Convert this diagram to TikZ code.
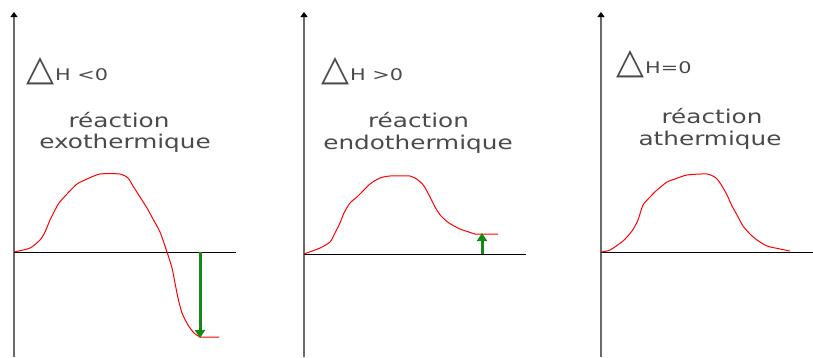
\documentclass[tikz,border=0pt]{standalone}
\usepackage{fontspec}
\setmainfont{DejaVu Sans}
\newfontfamily\lblfont[FakeStretch=1.3]{DejaVu Sans}
\usetikzlibrary{arrows.meta}
\definecolor{axgray}{HTML}{6A6A6A}
\definecolor{txtgray}{HTML}{4A4A4A}
\definecolor{dgreen}{HTML}{138A13}
\newcommand{\tri}{\hspace{-2pt}\resizebox{28pt}{23pt}{△}\hspace{1pt}}
\tikzset{
  yaxis/.style={draw=axgray,line width=1.8,-{Triangle[length=5,width=7,color=black]}},
  xaxis/.style={draw=black,line width=1},
  curve/.style={draw=red,line width=1,line join=round},
  deltaarrow/.style={draw=dgreen,line width=3,-{Triangle[length=8,width=10]}},
  lbl/.style={text=txtgray,font=\lblfont\fontsize{19}{21}\selectfont,inner sep=0,anchor=base},
  dh/.style={lbl,font=\lblfont\fontsize{16}{18}\selectfont,anchor=base west}
}
\begin{document}
\begin{tikzpicture}[x=1pt,y=-1pt]
\useasboundingbox (0,0) rectangle (813,357);
% ---------- panel 1
\coordinate (y1b) at (14,357); \coordinate (y1t) at (14,12);
\coordinate (x1a) at (14,252); \coordinate (x1b) at (236,252);
\draw[yaxis] (y1b) -- (y1t);
\draw[xaxis] (x1a) -- (x1b);
\draw[curve] plot[smooth,tension=0.4] coordinates {(14,252) (30,248) (40,240) (45,232) (50,220) (54,212) (59,203) (67,194) (77,184) (87,179) (100,174) (120,174) (128,178) (133,186) (140,197) (147,208) (153,219) (160,232) (167,252) (172,268) (175,283) (178,298) (182,313) (188,325) (194,333) (200,337)} -- (219,337);
\coordinate (g1a) at (200,252); \coordinate (g1b) at (200,338);
\draw[deltaarrow] (g1a) -- (g1b);
\node[dh] (dh1) at (28,80) {\tri H <0};
\node[lbl] (r1) at (119,127) {réaction};
\node[lbl] (e1) at (125,148) {exothermique};
% ---------- panel 2
\coordinate (y2b) at (304,357); \coordinate (y2t) at (304,12);
\coordinate (x2a) at (304,254); \coordinate (x2b) at (526,254);
\draw[yaxis] (y2b) -- (y2t);
\draw[xaxis] (x2a) -- (x2b);
\draw[curve] plot[smooth,tension=0.4] coordinates {(304,254) (320,248) (330,242) (335,233) (340,223) (344,213) (350,203) (358,196) (370,184) (380,178) (390,176) (410,176) (418,180) (424,186) (430,197) (435,207) (441,216) (449,223) (460,229) (475,234)} -- (498,234);
\coordinate (g2a) at (482,254); \coordinate (g2b) at (482,233);
\draw[deltaarrow] (g2a) -- (g2b);
\node[dh] (dh2) at (323,80) {\tri H >0};
\node[lbl] (r2) at (418.5,127) {réaction};
\node[lbl] (e2) at (418,149) {endothermique};
% ---------- panel 3
\coordinate (y3b) at (601,357); \coordinate (y3t) at (601,12);
\coordinate (x3a) at (601,252); \coordinate (x3b) at (813,252);
\draw[yaxis] (y3b) -- (y3t);
\draw[xaxis] (x3a) -- (x3b);
\draw[curve] plot[smooth,tension=0.4] coordinates {(601,252) (610,250) (623,241) (632,231) (638,220) (643,205) (650,197) (657,190) (667,182) (675,179) (687,175) (707,174) (716,178) (722,186) (727,195) (732,206) (737,215) (743,226) (750,234) (757,240) (767,246) (780,249) (790,251)};
\node[dh] (dh3) at (618,73) {\tri H=0};
\node[lbl] (r3) at (712,123) {réaction};
\node[lbl] (e3) at (710,145) {athermique};
\end{tikzpicture}
\end{document}
